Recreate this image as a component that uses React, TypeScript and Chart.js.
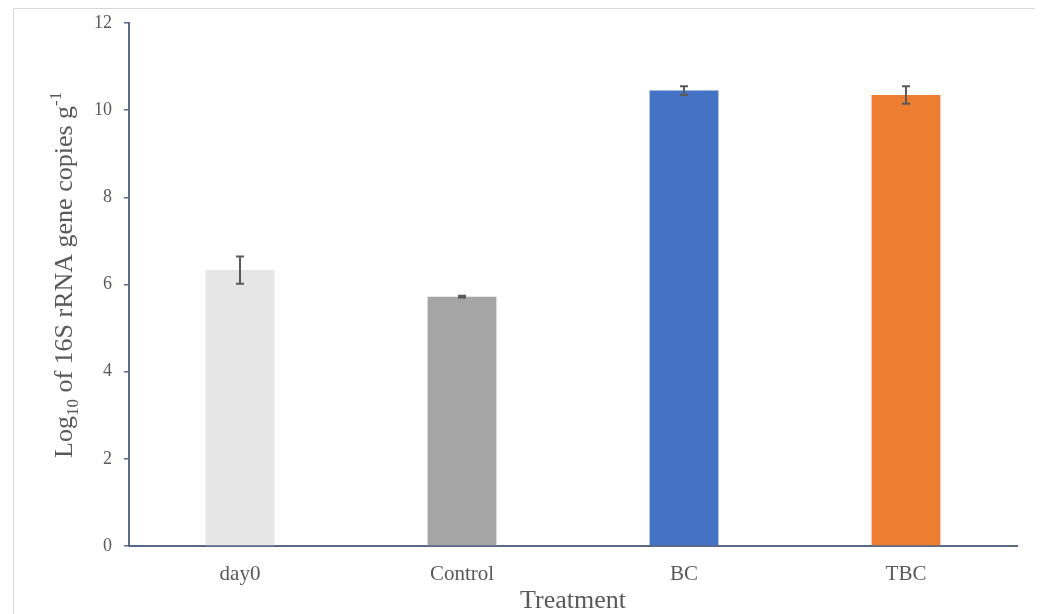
import React, { useEffect, useRef } from "react";
import { Chart, registerables } from "chart.js";

Chart.register(...registerables);

// Treatment groups and their mean log10 copy numbers with standard errors
const categories = ["day0", "Control", "BC", "TBC"];
const means = [6.33, 5.72, 10.45, 10.35];
const errors = [0.31, 0.02, 0.1, 0.2];
const barColors = ["#E7E6E6", "#A5A5A5", "#4472C4", "#ED7D31"];
const yMin = 0;
const yMax = 12;
const yStep = 2;
const xTitle = "Treatment";

const SERIF = "'Liberation Serif', 'Times New Roman', serif";
const TEXT = "#595959";
const AXIS = "#5a6a86";

// Vertical error bars with caps, drawn on top of each bar
const errorBarPlugin = {
  id: "errorBars",
  afterDatasetsDraw(chart: any) {
    const { ctx } = chart;
    const meta = chart.getDatasetMeta(0);
    const yScale = chart.scales.y;
    ctx.save();
    ctx.strokeStyle = "#595959";
    ctx.lineWidth = 2;
    meta.data.forEach((bar: any, i: number) => {
      const x = bar.x;
      const yTop = yScale.getPixelForValue(means[i] + errors[i]);
      const yBot = yScale.getPixelForValue(means[i] - errors[i]);
      const cap = 4;
      ctx.beginPath();
      ctx.moveTo(x, yTop);
      ctx.lineTo(x, yBot);
      ctx.moveTo(x - cap, yTop);
      ctx.lineTo(x + cap, yTop);
      ctx.moveTo(x - cap, yBot);
      ctx.lineTo(x + cap, yBot);
      ctx.stroke();
    });
    ctx.restore();
  },
};

// Axis titles: the y title needs a subscript and a superscript
const axisTitlePlugin = {
  id: "axisTitles",
  afterDraw(chart: any) {
    const { ctx, chartArea } = chart;
    ctx.save();
    ctx.fillStyle = TEXT;

    // x axis title
    ctx.font = `26px ${SERIF}`;
    ctx.textAlign = "center";
    ctx.textBaseline = "middle";
    ctx.fillText(xTitle, (chartArea.left + chartArea.right) / 2, 592);

    // y axis title, rotated
    const parts: { text: string; size: number; dy: number }[] = [
      { text: "Log", size: 26, dy: 0 },
      { text: "10", size: 17, dy: 6 },
      { text: " of 16S rRNA gene copies g", size: 26, dy: 0 },
      { text: "-1", size: 17, dy: -11 },
    ];
    ctx.translate(57.5, 449);
    ctx.rotate(-Math.PI / 2);
    ctx.textAlign = "left";
    ctx.textBaseline = "alphabetic";
    let x = 0;
    for (const p of parts) {
      ctx.font = `${p.size}px ${SERIF}`;
      ctx.fillText(p.text, x, p.dy);
      x += ctx.measureText(p.text).width;
    }
    ctx.restore();
  },
};

export default function App() {
  const canvasRef = useRef<HTMLCanvasElement | null>(null);

  useEffect(() => {
    const canvas = canvasRef.current;
    if (!canvas) return;
    const chart = new Chart(canvas, {
      type: "bar",
      data: {
        labels: categories,
        datasets: [
          {
            data: means,
            backgroundColor: barColors,
            borderWidth: 0,
            categoryPercentage: 1,
            barPercentage: 0.31,
          },
        ],
      },
      options: {
        responsive: false,
        animation: false,
        devicePixelRatio: 1,
        layout: { padding: { top: 14, right: 20, bottom: 0, left: 0 } },
        plugins: {
          legend: { display: false },
          tooltip: { enabled: false },
          title: { display: false },
        },
        scales: {
          x: {
            grid: { display: false, drawTicks: false },
            border: { display: true, color: AXIS, width: 2 },
            ticks: {
              color: TEXT,
              font: { family: SERIF, size: 21 },
              padding: 16,
              maxRotation: 0,
            },
            afterFit(scale: any) {
              scale.height = 83;
              scale.paddingLeft = 0;
              scale.paddingRight = 0;
            },
          },
          y: {
            min: yMin,
            max: yMax,
            grid: {
              drawOnChartArea: false,
              drawTicks: true,
              tickLength: 5,
              color: AXIS,
              lineWidth: 1.5,
            },
            border: { display: true, color: AXIS, width: 2 },
            ticks: {
              stepSize: yStep,
              color: TEXT,
              font: { family: SERIF, size: 18 },
              padding: 12,
            },
            afterFit(scale: any) {
              scale.width = 115;
              scale.paddingTop = 0;
              scale.paddingBottom = 0;
            },
          },
        },
      },
      plugins: [errorBarPlugin, axisTitlePlugin],
    });
    return () => chart.destroy();
  }, []);

  return (
    <div
      style={{
        marginLeft: 5,
        width: 1023,
        height: 620,
        border: "1px solid #d9d9d9",
        background: "#ffffff",
      }}
    >
      <canvas ref={canvasRef} width={1023} height={620} style={{ display: "block" }} />
    </div>
  );
}
